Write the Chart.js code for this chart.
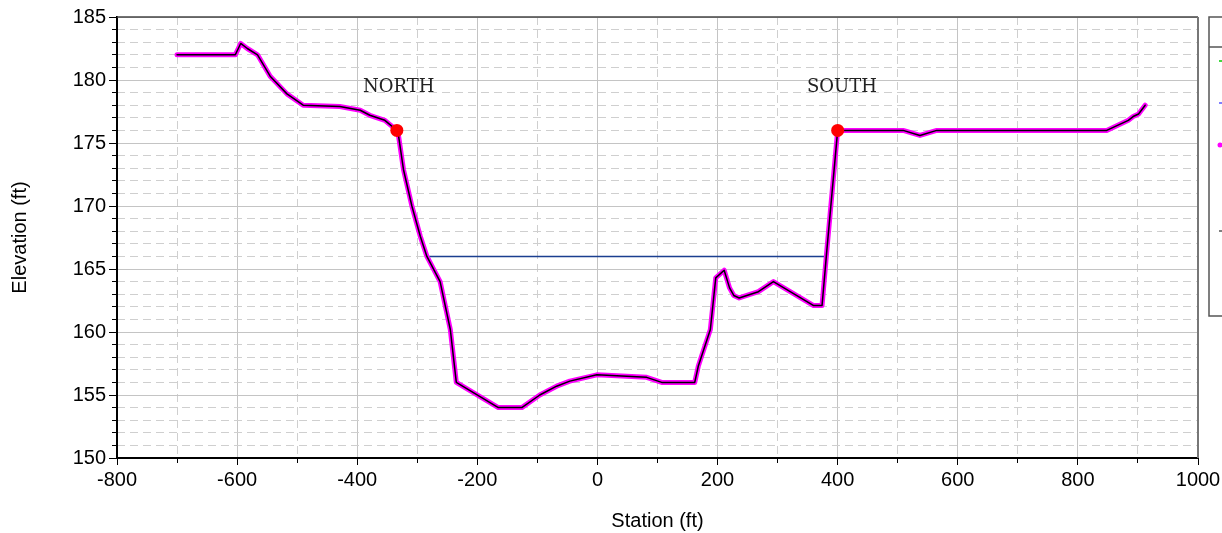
<!DOCTYPE html>
<html>
<head>
<meta charset="utf-8">
<script src="https://cdn.jsdelivr.net/npm/chart.js@4/dist/chart.umd.min.js"></script>
<style>
  body { margin: 0; background: #fff; }
  canvas { display: block; }
</style>
</head>
<body>
<canvas id="xsChart" width="1222" height="533"></canvas>
<script>
// ground profile
const station = [-700, -603, -594, -583, -566, -545, -517, -490, -429, -395, -379, -354, -334, -331,
  -323, -309, -295, -284, -262, -245, -235, -165, -126, -96, -68, -46, -1, 82, 107, 162, 168, 188,
  197, 211, 220, 227, 236, 268, 293, 360, 374, 382, 400, 509, 537, 565, 848, 884, 892, 901, 912];
const elevation = [182, 182, 182.9, 182.5, 182, 180.3, 178.9, 178, 177.9, 177.6, 177.2, 176.8, 176, 175.5,
  172.9, 170, 167.6, 166, 164, 160.2, 156, 154, 154, 155, 155.7, 156.1, 156.6, 156.4, 156, 156, 157.3, 160.2,
  164.3, 164.9, 163.5, 162.9, 162.7, 163.2, 164, 162.1, 162.1, 166.5, 176, 176, 175.6, 176, 176, 176.8,
  177.1, 177.3, 178];

// water surface
const wsStation = [-285, 381];
const wsElevation = [166, 166];

// bank stations
const bankStation = [-334, 400];
const bankElevation = [176, 176];

// bank labels
const bankLabels = ['NORTH', 'SOUTH'];
const labelStation = [-331, 407];
const labelElevation = [179.4, 179.4];

const toPts = (xs, ys) => xs.map((x, i) => ({ x: x, y: ys[i] }));
const font = 'Liberation Sans, Arial, sans-serif';
const clear = 'rgba(0,0,0,0)';

const extras = {
  id: 'extras',
  afterDraw(chart) {
    const { ctx, chartArea: a, scales } = chart;
    ctx.save();
    // frame top / right
    ctx.strokeStyle = '#444';
    ctx.lineWidth = 1.5;
    ctx.beginPath();
    ctx.moveTo(a.left, a.top);
    ctx.lineTo(a.right, a.top);
    ctx.stroke();
    ctx.strokeStyle = '#777';
    ctx.lineWidth = 2;
    ctx.beginPath();
    ctx.moveTo(a.right, a.top);
    ctx.lineTo(a.right, a.bottom);
    ctx.stroke();

    // NORTH / SOUTH
    ctx.fillStyle = '#222';
    ctx.font = '18px "DejaVu Serif", serif';
    ctx.textAlign = 'center';
    ctx.textBaseline = 'middle';
    bankLabels.forEach((t, i) => {
      ctx.fillText(t, scales.x.getPixelForValue(labelStation[i]), scales.y.getPixelForValue(labelElevation[i]));
    });

    // legend box, cut off at the right edge
    ctx.fillStyle = '#fff';
    ctx.fillRect(1209, 17, 40, 299);
    ctx.strokeStyle = '#555';
    ctx.lineWidth = 1.5;
    ctx.strokeRect(1209, 17, 40, 299);
    ctx.beginPath();
    ctx.moveTo(1209, 47);
    ctx.lineTo(1222, 47);
    ctx.stroke();
    const marks = [['#00cc00', 61, 1.5], ['#5555ff', 103, 1.5], ['#ff00ff', 145, 3], ['#555', 231, 1.5]];
    marks.forEach(([c, y, w]) => {
      ctx.strokeStyle = c;
      ctx.lineWidth = w;
      ctx.beginPath();
      ctx.moveTo(1219, y);
      ctx.lineTo(1223, y);
      ctx.stroke();
    });
    ctx.fillStyle = '#ff00ff';
    ctx.beginPath();
    ctx.arc(1220, 145, 2.5, 0, Math.PI * 2);
    ctx.fill();
    ctx.restore();
  }
};

new Chart(document.getElementById('xsChart'), {
  type: 'line',
  data: {
    datasets: [
      { data: toPts(bankStation, bankElevation), showLine: false, pointRadius: 6.5, pointBackgroundColor: '#ff0000', pointBorderWidth: 0, order: 0 },
      { data: toPts(station, elevation), borderColor: '#000', borderWidth: 1.5, pointRadius: 0, order: 1 },
      { data: toPts(station, elevation), borderColor: '#ff00ff', borderWidth: 5, pointRadius: 0, order: 2 },
      { data: toPts(wsStation, wsElevation), borderColor: '#1b3f8f', borderWidth: 1.5, pointRadius: 0, order: 3 }
    ]
  },
  options: {
    responsive: false,
    animation: false,
    layout: { padding: { left: 0, right: 24, top: 17, bottom: 0 } },
    plugins: { legend: { display: false }, tooltip: { enabled: false } },
    elements: { line: { tension: 0, borderJoinStyle: 'round', borderCapStyle: 'round' } },
    scales: {
      x: {
        type: 'linear', position: 'bottom', min: -800, max: 1000, weight: 1,
        ticks: { stepSize: 200, autoSkip: false, maxRotation: 0, padding: 3, color: '#000', font: { family: font, size: 20 }, callback: v => String(v) },
        grid: { color: '#c4c4c4', lineWidth: 1, tickLength: 7, tickColor: '#000' },
        border: { color: '#000', width: 2 },
        title: { display: true, text: 'Station (ft)', color: '#000', font: { family: font, size: 20 }, padding: { top: 0, bottom: 0 } },
        afterFit: s => { s.height = 75; s.paddingRight = 0; }
      },
      xMinor: {
        type: 'linear', position: 'bottom', min: -800, max: 1000, weight: 0,
        ticks: { stepSize: 100, display: false, autoSkip: false },
        grid: { color: c => (c.tick.value % 200 === 0 ? clear : '#cfcfcf'), tickLength: 5, tickColor: '#000' },
        border: { display: false, dash: [8, 5] },
        afterFit: s => { s.height = 0; }
      },
      y: {
        type: 'linear', position: 'left', min: 150, max: 185, weight: 1,
        ticks: { stepSize: 5, autoSkip: false, padding: 3, color: '#000', font: { family: font, size: 20 } },
        grid: { color: '#c4c4c4', lineWidth: 1, tickLength: 8, tickColor: '#000' },
        border: { color: '#000', width: 2 },
        title: { display: true, text: 'Elevation (ft)', color: '#000', font: { family: font, size: 20 }, padding: { top: 8, bottom: 0 } },
        afterFit: s => { s.width = 117; }
      },
      yMinor: {
        type: 'linear', position: 'left', min: 150, max: 185, weight: 0,
        ticks: { stepSize: 1, display: false, autoSkip: false },
        grid: { color: c => (c.tick.value % 5 === 0 ? clear : '#cfcfcf'), tickLength: 5, tickColor: '#000' },
        border: { display: false, dash: [8, 5] },
        afterFit: s => { s.width = 0; }
      }
    }
  },
  plugins: [extras]
});
</script>
</body>
</html>
